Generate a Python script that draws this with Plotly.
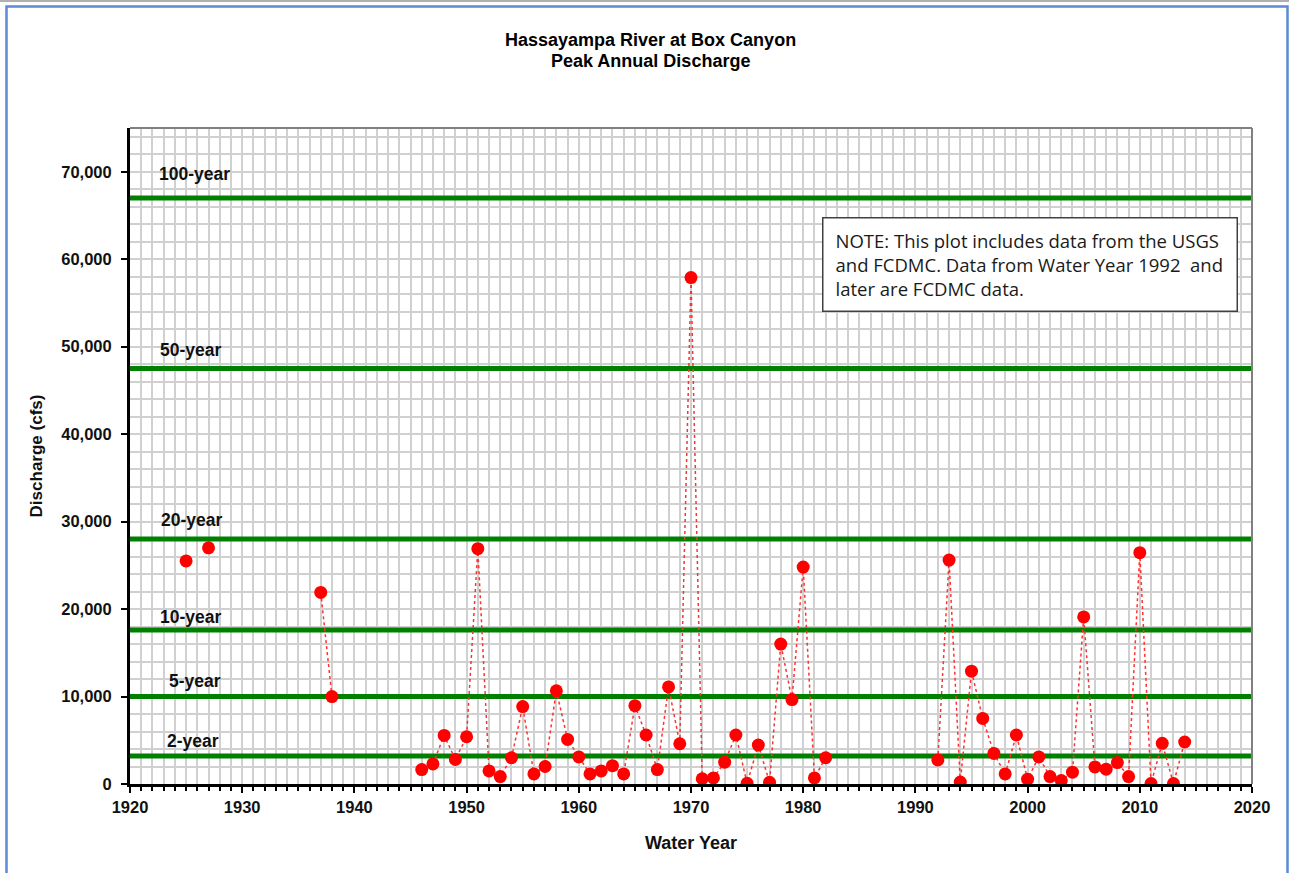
import plotly.graph_objects as go

# ---- data ----
years = list(range(1925, 2015))
peak_values = {
    1925: 25500, 1927: 27000,
    1937: 21900, 1938: 10000,
    1946: 1650, 1947: 2300, 1948: 5550, 1949: 2800, 1950: 5400,
    1951: 26900, 1952: 1500, 1953: 850, 1954: 3000, 1955: 8850,
    1956: 1150, 1957: 2000, 1958: 10650, 1959: 5100, 1960: 3100,
    1961: 1150, 1962: 1500, 1963: 2100, 1964: 1150, 1965: 8950,
    1966: 5600, 1967: 1650, 1968: 11100, 1969: 4600, 1970: 57900,
    1971: 600, 1972: 700, 1973: 2500, 1974: 5600, 1975: 80,
    1976: 4450, 1977: 200, 1978: 16000, 1979: 9650, 1980: 24800,
    1981: 700, 1982: 3000,
    1992: 2750, 1993: 25600, 1994: 230, 1995: 12900, 1996: 7500,
    1997: 3500, 1998: 1150, 1999: 5600, 2000: 550, 2001: 3100,
    2002: 850, 2003: 400, 2004: 1350, 2005: 19100, 2006: 1950,
    2007: 1700, 2008: 2450, 2009: 850, 2010: 26450, 2011: 50,
    2012: 4650, 2013: 50, 2014: 4800,
}
discharge = [peak_values.get(y) for y in years]

freq_labels = ["100-year", "50-year", "20-year", "10-year", "5-year", "2-year"]
freq_values = [67000, 47500, 28000, 17600, 10000, 3200]

x_range = [1920, 2020]
y_range = [0, 75000]

title_lines = ["Hassayampa River at Box Canyon", "Peak Annual Discharge"]
x_title = "Water Year"
y_title = "Discharge (cfs)"
note_text = ("NOTE: This plot includes data from the USGS<br>"
             "and FCDMC. Data from Water Year 1992  and<br>"
             "later are FCDMC data.")

# ---- style ----
W, H = 1289, 873
L, R, T, B = 130, 37, 128, 89
pw, ph = W - L - R, H - T - B
def px_x(px):
    return (px - L) / pw
def px_y(py):
    return (H - B - py) / ph

narrow = "Liberation Sans Narrow, Arial Narrow, Arial, sans-serif"
bold_sans = "Liberation Sans, Arial, sans-serif"
grid_col = "#d0d0d0"

fig = go.Figure()

# return-period lines (as traces so they sit above the grid)
for v in freq_values:
    fig.add_trace(go.Scatter(
        x=x_range, y=[v, v], mode="lines",
        line=dict(color="#008000", width=5),
        showlegend=False, hoverinfo="skip",
    ))

fig.add_trace(go.Scatter(
    x=years, y=discharge, mode="lines+markers",
    connectgaps=False,
    line=dict(color="#ff3030", width=1.5, dash="dot"),
    marker=dict(color="#ff0000", size=13, line=dict(width=0)),
    showlegend=False, hoverinfo="x+y",
))

shapes = []
# plot-area top / right border (gray)
shapes.append(dict(type="line", xref="paper", yref="paper", x0=0, x1=1, y0=1, y1=1,
                   line=dict(color="#808080", width=2)))
shapes.append(dict(type="line", xref="paper", yref="paper", x0=1, x1=1, y0=0, y1=1,
                   line=dict(color="#808080", width=2)))
# outer chart frame
shapes.append(dict(type="rect", xref="paper", yref="paper",
                   x0=px_x(6.5), x1=px_x(1287.5), y0=px_y(880), y1=px_y(6.5),
                   line=dict(color="#5b8bd0", width=2.5), fillcolor="rgba(0,0,0,0)"))
shapes.append(dict(type="line", xref="paper", yref="paper",
                   x0=px_x(0), x1=px_x(1289), y0=px_y(1), y1=px_y(1),
                   line=dict(color="#b0b0b0", width=2)))

annotations = []
label_left = [157, 158, 159, 158, 167, 165]
label_shift = [24, 19, 19, 13, 16, 15]
for lab, v, lx, sh in zip(freq_labels, freq_values, label_left, label_shift):
    annotations.append(dict(text=lab, xref="paper", yref="y", x=px_x(lx), y=v,
                            xanchor="left", yanchor="middle", yshift=sh, showarrow=False,
                            font=dict(family=bold_sans, size=17.5, color="#111111", weight="bold")))

annotations.append(dict(text=title_lines[0], xref="paper", yref="paper",
                        x=px_x(650), y=px_y(40), xanchor="center", yanchor="middle",
                        showarrow=False,
                        font=dict(family=narrow, size=18, color="#000000", weight="bold")))
annotations.append(dict(text=title_lines[1], xref="paper", yref="paper",
                        x=px_x(650), y=px_y(61), xanchor="center", yanchor="middle",
                        showarrow=False,
                        font=dict(family=narrow, size=18, color="#000000", weight="bold")))
annotations.append(dict(text=note_text, xref="paper", yref="paper",
                        x=px_x(822), y=px_y(217), xanchor="left", yanchor="top",
                        showarrow=False, align="left", valign="middle", bgcolor="#ffffff",
                        bordercolor="#404040", borderwidth=1.5, borderpad=12,
                        width=389, height=68,
                        font=dict(family="Open Sans, sans-serif", size=18.5, color="#1a1a1a")))

fig.update_layout(
    width=W, height=H,
    margin=dict(l=L, r=R, t=T, b=B, autoexpand=False),
    paper_bgcolor="#ffffff", plot_bgcolor="#ffffff",
    shapes=shapes, annotations=annotations,
    showlegend=False,
)

fig.update_xaxes(
    range=x_range, dtick=10, tick0=1920,
    showgrid=True, gridcolor=grid_col, gridwidth=1.5,
    showline=True, linecolor="#000000", linewidth=3,
    ticks="outside", ticklen=6, tickwidth=2, tickcolor="#000000",
    tickfont=dict(family=narrow, size=16.5, color="#111111", weight="bold"),
    minor=dict(dtick=1, showgrid=True, gridcolor=grid_col, gridwidth=1.5,
               ticks="outside", ticklen=4, tickwidth=2, tickcolor="#000000"),
    title=dict(text=x_title, standoff=22,
               font=dict(family=narrow, size=18, color="#111111", weight="bold")),
    zeroline=False,
)
fig.update_yaxes(
    range=y_range, dtick=10000, tick0=0, tickformat=",",
    showgrid=True, gridcolor=grid_col, gridwidth=1.5,
    showline=True, linecolor="#000000", linewidth=3,
    ticks="outside", ticklen=6, tickwidth=2, tickcolor="#000000",
    ticklabelstandoff=6,
    tickfont=dict(family=bold_sans, size=16.5, color="#111111", weight="bold"),
    minor=dict(dtick=2000, showgrid=True, gridcolor=grid_col, gridwidth=1.5),
    title=dict(text=y_title, standoff=15,
               font=dict(family=narrow, size=17, color="#111111", weight="bold")),
    zeroline=False,
)

fig.write_html("out.html",
               config={"displayModeBar": False},
               post_script="document.body.style.margin='0';document.body.style.overflow='hidden';")
